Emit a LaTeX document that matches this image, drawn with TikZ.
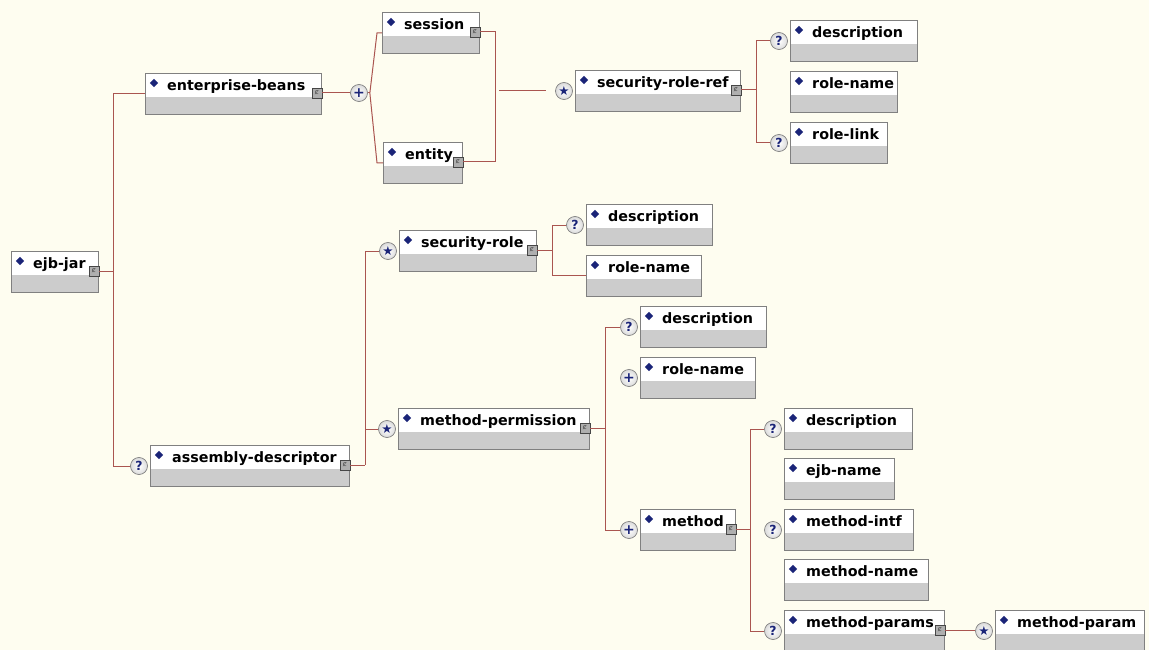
\documentclass[tikz,border=0pt]{standalone}
\usepackage{fontspec}
\setmainfont{DejaVu Sans}
\usetikzlibrary{shapes.geometric,calc}
\definecolor{bgc}{RGB}{254,253,240}
\definecolor{boxline}{RGB}{128,128,128}
\definecolor{boxgray}{RGB}{204,204,204}
\definecolor{conn}{RGB}{170,85,80}
\definecolor{navy}{RGB}{26,36,120}
\definecolor{icongray}{RGB}{175,175,175}
\definecolor{icondark}{RGB}{70,70,70}
\newcommand{\elem}[5]{%
  \node[elembox, minimum width={#4-#2}] (#1) at (#2,#3) {};
  \node[dmd] (#1-d) at ([xshift=9pt,yshift=-10pt]#1.north west) {};
  \node[lbl] (#1-t) at ([xshift=22pt,yshift=-17.8pt]#1.north west) {#5};
}
\newcommand{\elicon}[1]{%
  \node[iconbox] (#1-i) at ([xshift=-5pt,yshift=-20pt]#1.north east) {ȼ};
}
\newcommand{\occq}[1]{\node[occ] (#1-c) at ([xshift=-11pt,yshift=-21pt]#1.north west) {?};}
\newcommand{\occp}[1]{\node[occ,font=\fontsize{14}{14}\selectfont\bfseries] (#1-c) at ([xshift=-11pt,yshift=-21pt]#1.north west) {+};}
\newcommand{\occs}[1]{\node[occ,font=\fontsize{12.5}{12.5}\selectfont] (#1-c) at ([xshift=-11pt,yshift=-21pt]#1.north west) {★};}
\begin{document}
\begin{tikzpicture}[x=1pt,y=-1pt,
  elembox/.style={rectangle, draw=boxline, fill=boxgray, inner sep=0pt,
    minimum height=41pt, anchor=north west, line width=0.8pt,
    path picture={\fill[white] (path picture bounding box.north west) rectangle ([yshift=-23.5pt]path picture bounding box.north east);}},
  dmd/.style={diamond, fill=navy, inner sep=0pt, minimum width=8.5pt, minimum height=8.5pt},
  lbl/.style={anchor=base west, inner sep=0pt, font=\fontsize{14.3}{17}\selectfont\bfseries, text=black},
  iconbox/.style={rectangle, minimum size=10pt, inner sep=0pt, fill=icongray, draw=icondark, line width=0.6pt, font=\fontsize{7}{7}\selectfont, text=icondark},
  occ/.style={circle, draw=boxline, line width=0.7pt, inner color=white, outer color=black!14, minimum size=17pt, inner sep=0pt, text=navy, font=\fontsize{12.5}{12.5}\selectfont\bfseries},
  cn/.style={draw=conn, line width=1pt}
]
\clip (0,0) rectangle (1149,650);
\fill[bgc] (0,0) rectangle (1149,650);

% elements
\elem{ejbjar}{11}{251}{98}{ejb-jar}\elicon{ejbjar}
\elem{entbeans}{145}{73}{321}{enterprise-beans}\elicon{entbeans}
\elem{session}{382}{12}{479}{session}\elicon{session}
\elem{entity}{383}{142}{462}{entity}\elicon{entity}
\elem{srr}{575}{70}{740}{security-role-ref}\elicon{srr}\occs{srr}
\elem{dA}{790}{20}{917}{description}\occq{dA}
\elem{rnA}{790}{71}{897}{role-name}
\elem{rl}{790}{122}{887}{role-link}\occq{rl}
\elem{asm}{150}{445}{349}{assembly-descriptor}\elicon{asm}\occq{asm}
\elem{sr}{399}{230}{536}{security-role}\elicon{sr}\occs{sr}
\elem{dB}{586}{204}{712}{description}\occq{dB}
\elem{rnB}{586}{255}{701}{role-name}
\elem{mp}{398}{408}{589}{method-permission}\elicon{mp}\occs{mp}
\elem{dC}{640}{306}{766}{description}\occq{dC}
\elem{rnC}{640}{357}{755}{role-name}\occp{rnC}
\elem{meth}{640}{509}{735}{method}\elicon{meth}\occp{meth}
\elem{dD}{784}{408}{912}{description}\occq{dD}
\elem{ejbn}{784}{458}{894}{ejb-name}
\elem{mi}{784}{509}{913}{method-intf}\occq{mi}
\elem{mn}{784}{559}{928}{method-name}
\elem{mps}{784}{610}{944}{method-params}\elicon{mps}\occq{mps}
\elem{mpa}{995}{610}{1144}{method-param}\occs{mpa}
\node[occ,font=\fontsize{14}{14}\selectfont\bfseries] (plus1) at (359,93) {+};

% connectors
\draw[cn] (ejbjar-i.east) -- ++(14,0) coordinate (tA);
\draw[cn] (entbeans.west) -| (tA);
\draw[cn] (asm-c.west) -| (tA);

\draw[cn] (entbeans-i.east) -- (plus1.west);
\draw[cn] (plus1.east) -- ++(2,0) coordinate (pv);
\draw[cn] (pv) -- ([xshift=-5pt]session.west) -- (session.west);
\draw[cn] (pv) -- ([xshift=-6pt]entity.west) -- (entity.west);

\draw[cn] (session-i.east) -- ++(15,0) coordinate (sb) |- (entity-i.east);
\draw[cn] (sb |- srr-c) ++(4,0) -- ([xshift=-9pt]srr-c.west);

\draw[cn] (srr-i.east) -- ++(15,0) coordinate (sv);
\draw[cn] (dA-c.west) -| (sv);
\draw[cn] (rl-c.west) -| (sv);

\draw[cn] (asm-i.east) -- ++(15,0) coordinate (av);
\draw[cn] (sr-c.west) -| (av);
\draw[cn] (mp-c.west) -| (av);

\draw[cn] (sr-i.east) -- ++(15,0) coordinate (srv);
\draw[cn] (dB-c.west) -| (srv);
\draw[cn] (rnB.west) -| (srv);

\draw[cn] (mp-i.east) -- ++(15,0) coordinate (mpv);
\draw[cn] (dC-c.west) -| (mpv);
\draw[cn] (meth-c.west) -| (mpv);

\draw[cn] (meth-i.east) -- ++(14,0) coordinate (mv);
\draw[cn] (dD-c.west) -| (mv);
\draw[cn] (mps-c.west) -| (mv);

\draw[cn] (mps-i.east) -- (mps-i.east -| mpa-c.west);
\end{tikzpicture}
\end{document}
